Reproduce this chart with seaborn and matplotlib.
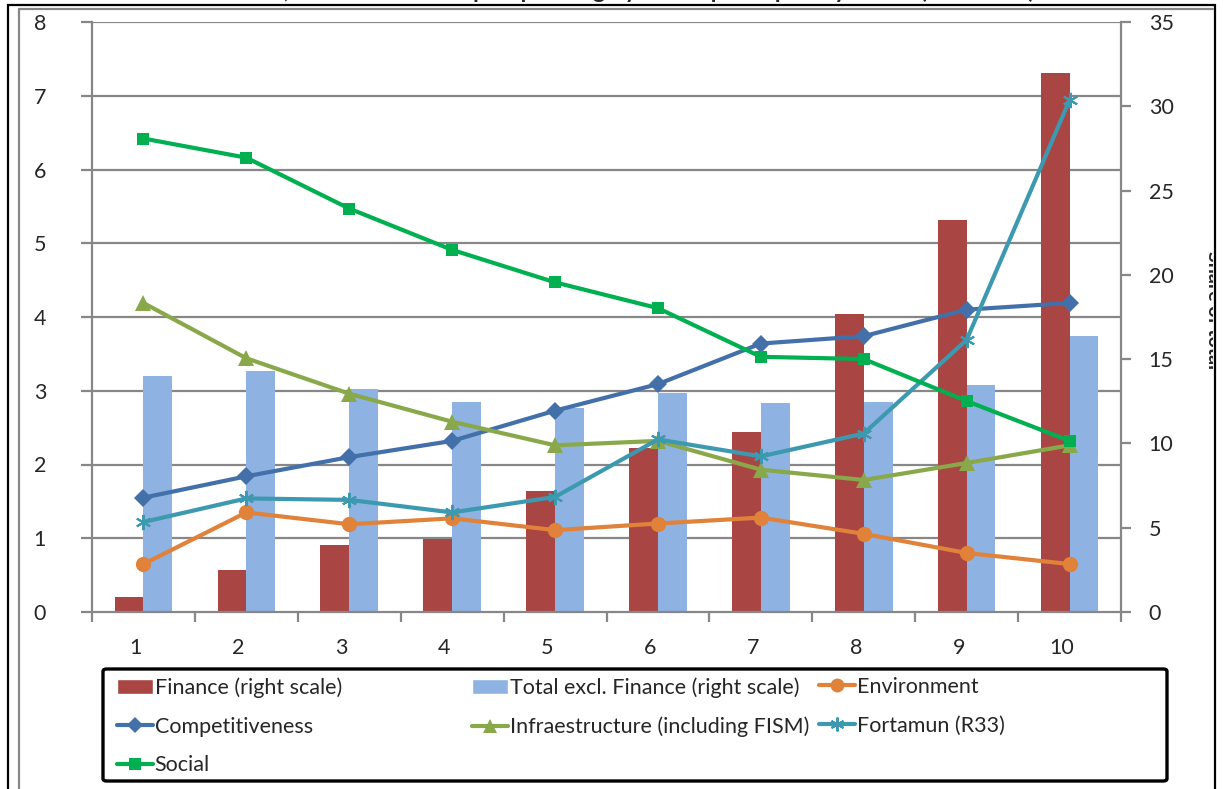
import numpy as np
import pandas as pd
import matplotlib
matplotlib.use('Agg')
import matplotlib.pyplot as plt
import seaborn as sns
from matplotlib.transforms import ScaledTranslation
from matplotlib.lines import Line2D
from matplotlib.patches import Patch, Rectangle, FancyBboxPatch

# 数据
deciles = ['1', '2', '3', '4', '5', '6', '7', '8', '9', '10']
finance = [0.9, 2.5, 3.95, 4.35, 7.2, 9.75, 10.7, 17.65, 23.25, 32.0]
total_excl = [14.0, 14.3, 13.2, 12.45, 12.1, 13.0, 12.4, 12.45, 13.45, 16.35]
environment = [0.65, 1.35, 1.19, 1.27, 1.11, 1.20, 1.28, 1.06, 0.80, 0.65]
competitiveness = [1.55, 1.84, 2.10, 2.32, 2.73, 3.09, 3.64, 3.74, 4.10, 4.19]
infrastructure = [4.19, 3.44, 2.96, 2.58, 2.26, 2.32, 1.93, 1.79, 2.02, 2.26]
fortamun = [1.22, 1.54, 1.52, 1.35, 1.56, 2.34, 2.11, 2.42, 3.69, 6.94]
social = [6.42, 6.16, 5.47, 4.91, 4.47, 4.12, 3.46, 3.43, 2.86, 2.32]

bar_names = ['Finance (right scale)', 'Total excl. Finance (right scale)']
left_ticks = list(range(0, 9))
right_ticks = list(range(0, 36, 5))

RED, LBLUE = '#A94644', '#8EB3E2'
GREY = '#878787'
lines_spec = [
    ('Environment', environment, '#E0823A', 'o', 11),
    ('Competitiveness', competitiveness, '#4370A9', 'D', 9),
    ('Infraestructure (including FISM)', infrastructure, '#89A84A', '^', 11),
    ('Fortamun (R33)', fortamun, '#3D99B0', (6, 2, 0), 11),
    ('Social', social, '#00B050', 's', 9),
]

sns.set_theme(style='white')
plt.rcParams['font.family'] = ['Lato', 'DejaVu Sans']

W, H = 1224, 789
fig = plt.figure(figsize=(W / 100, H / 100), dpi=100)
ax = fig.add_axes([92 / W, (H - 612) / H, (1121 - 92) / W, (612 - 22) / H])
ax2 = ax.twinx()
ax.set_zorder(2); ax2.set_zorder(1)
ax.patch.set_visible(False)

# 柱状图（右轴）
df_bar = pd.DataFrame({
    'decile': deciles * 2,
    'value': finance + total_excl,
    'series': [bar_names[0]] * len(deciles) + [bar_names[1]] * len(deciles),
})
sns.barplot(data=df_bar, x='decile', y='value', hue='series', palette=[RED, LBLUE],
            width=0.56, gap=0, saturation=1, ax=ax2, legend=False, zorder=2, linewidth=0)
for v in left_ticks[1:]:
    ax2.axhline(v * 35 / 8, color=GREY, lw=1.6, zorder=0)

# 折线图（左轴）
pos = np.arange(len(deciles))
for name, vals, c, m, ms in lines_spec:
    sns.lineplot(x=pos, y=vals, ax=ax, color=c, lw=3, marker=m, markersize=ms,
                 markeredgecolor=c, markeredgewidth=1.5 if m == (6, 2, 0) else 0)

ax.set_ylim(0, 8); ax.set_yticks(left_ticks)
ax2.set_ylim(0, 35); ax2.set_yticks(right_ticks)
ax.set_xlim(-0.5, len(deciles) - 0.5)
ax.set_xticks(np.arange(-0.5, len(deciles), 1))
ax.set_xticklabels([])
ax.set_xticks(pos, minor=True)
ax.set_xticklabels(deciles, minor=True)
for a in (ax, ax2):
    a.set_xlabel(''); a.set_ylabel('')
    a.grid(False)
    for s in a.spines.values():
        s.set_visible(False)
ax.spines['left'].set_visible(True); ax.spines['bottom'].set_visible(True)
ax2.spines['right'].set_visible(True)
for s in (ax.spines['left'], ax.spines['bottom'], ax2.spines['right']):
    s.set_color(GREY); s.set_linewidth(1.6)
ax.tick_params(axis='y', length=8, width=1.6, color=GREY, labelsize=15.5, pad=25, left=True)
ax2.tick_params(axis='y', length=7, width=1.6, color=GREY, labelsize=15.5, pad=13, right=True)
ax.tick_params(axis='x', which='major', length=7, width=1.6, color=GREY, bottom=True)
ax.tick_params(axis='x', which='minor', length=0, labelsize=15.5, pad=19)
for lab in ax.get_xticklabels(minor=True):
    lab.set_transform(lab.get_transform() + ScaledTranslation(-0.08, 0, fig.dpi_scale_trans))

# 图例：三列
h_bar = [Patch(facecolor=RED), Patch(facecolor=LBLUE)]
h_line = [Line2D([], [], color=c, lw=3, marker=m, markersize=ms - 1, markeredgecolor=c,
                 markeredgewidth=1.5 if m == (6, 2, 0) else 0) for _, _, c, m, ms in lines_spec]
names = [n for n, *_ in lines_spec]
cols = [
    ([h_bar[0], h_line[1], h_line[4]], [bar_names[0], names[1], names[4]], 117),
    ([h_bar[1], h_line[2]], [bar_names[1], names[2]], 472),
    ([h_line[0], h_line[3]], [names[0], names[3]], 819),
]
for hs, ls, x in cols:
    fig.legend(hs, ls, loc='upper left', bbox_to_anchor=(x / W, 1 - 677 / H), frameon=False,
               fontsize=15.5, borderpad=0, borderaxespad=0, handlelength=1.65,
               handletextpad=0.1, labelspacing=0.88)
fig.add_artist(FancyBboxPatch((103 / W, 1 - 781 / H), (1167 - 103) / W, (781 - 669) / H,
                              boxstyle='round,pad=0,rounding_size=0.003', fill=False,
                              ec='black', lw=2.4, transform=fig.transFigure))

# 外框与被截断的标题、右轴标题
fig.add_artist(Rectangle((8 / W, -0.05), (1215 - 8) / W, (H - 5) / H + 0.05, fill=False,
                         ec='black', lw=1.6, transform=fig.transFigure))
fig.add_artist(Line2D([19 / W, 19 / W], [-0.05, 1 - 9 / H], color=GREY, lw=1.6,
                      transform=fig.transFigure))
fig.add_artist(Line2D([19 / W, 1213 / W], [1 - 9 / H, 1 - 9 / H], color=GREY, lw=1.6,
                      transform=fig.transFigure))
fig.text(620 / W, 1 + 2 / H, 'Federal, State and Municipal spending by decile per capita by decile (% of total)',
         ha='center', va='baseline', fontsize=17, fontweight='bold')
t = fig.text(1214 / W, 1 - 310 / H, 'Share of total', rotation=270, ha='center', va='center',
             fontsize=14, fontweight='bold')
t.set_clip_path(Rectangle((0, 0), 1213 / W, 1, transform=fig.transFigure))

fig.savefig('out.png', dpi=100)
